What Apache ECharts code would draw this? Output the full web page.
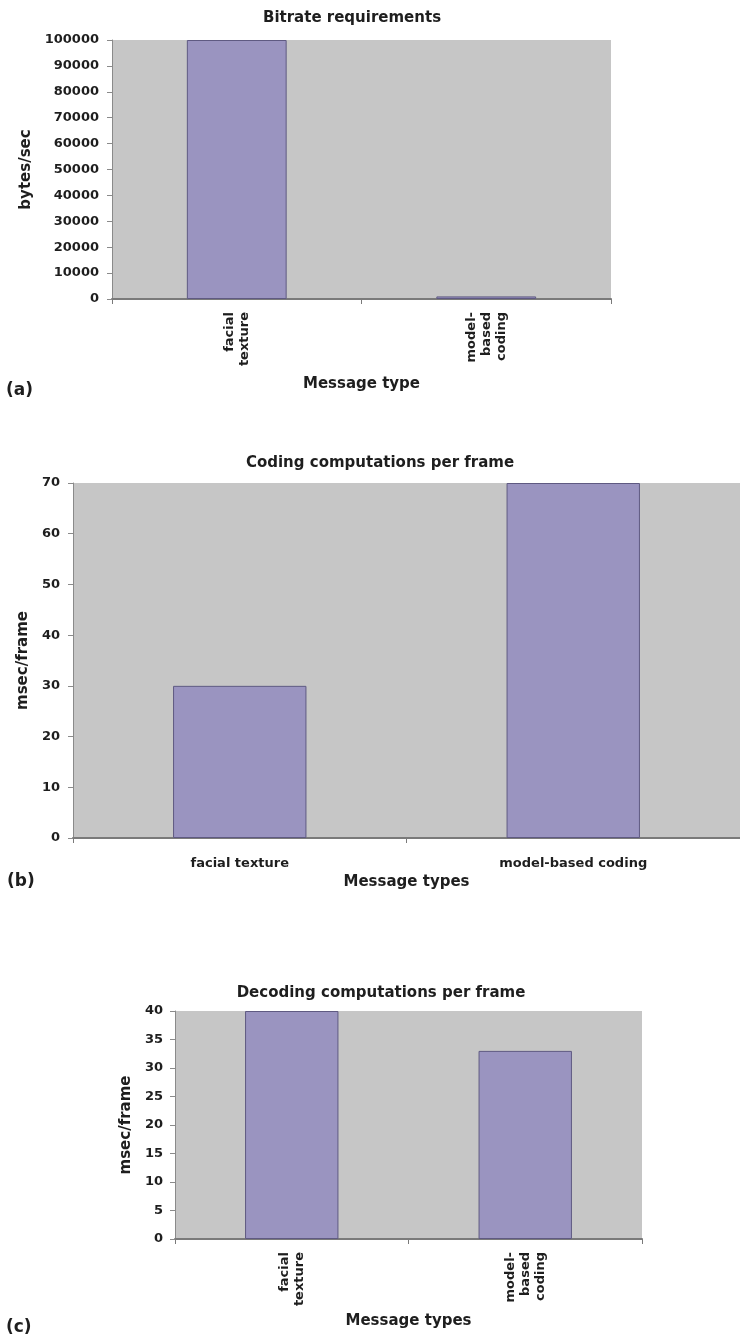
<!DOCTYPE html>
<html>
<head>
<meta charset="utf-8">
<title>Bitrate and computation requirements</title>
<script src="https://cdn.jsdelivr.net/npm/echarts@6/dist/echarts.min.js"></script>
<style>
  html, body { margin: 0; padding: 0; background: #ffffff; }
  #chart { width: 740px; height: 1335px; }
</style>
</head>
<body>
<div id="chart"></div>
<script>
// Message types (two layouts: stacked for vertical labels, flat for horizontal)
const categories = ['facial texture', 'model-based coding'];
const categoriesStacked = ['facial\ntexture', 'model-\nbased\ncoding'];

// (a) Bitrate requirements, bytes/sec
const bitrateValues = [100000, 1000];
const bitrateAxis = { min: 0, max: 100000, interval: 10000 };

// (b) Coding computations per frame, msec/frame
const codingValues = [30, 70];
const codingAxis = { min: 0, max: 70, interval: 10 };

// (c) Decoding computations per frame, msec/frame
const decodingValues = [40, 33];
const decodingAxis = { min: 0, max: 40, interval: 5 };

const panelTitles = ['Bitrate requirements', 'Coding computations per frame', 'Decoding computations per frame'];
const panelTags = ['(a)', '(b)', '(c)'];

const FONT = '"DejaVu Sans", "Liberation Sans", Arial, sans-serif';
const TEXT = '#1e1e1e';
const PLOT_BG = '#c6c6c6';
const BAR_FILL = '#9a94c0';
const BAR_EDGE = '#5f5a82';

const chart = echarts.init(document.getElementById('chart'), null, { renderer: 'canvas' });

function yAxisCfg(gridIndex, range, name, nameGap, labelMargin) {
  return {
    type: 'value', gridIndex: gridIndex,
    min: range.min, max: range.max, interval: range.interval,
    name: name, nameLocation: 'middle', nameGap: nameGap, nameRotate: 90,
    nameTextStyle: { fontFamily: FONT, fontWeight: 'bold', fontSize: 15, color: TEXT },
    axisLine: { show: true, lineStyle: { color: '#8a8a8a', width: 1 } },
    axisTick: { show: true, length: 5, lineStyle: { color: '#8a8a8a' } },
    axisLabel: {
      margin: labelMargin, fontFamily: FONT, fontWeight: 'bold', fontSize: 13, color: TEXT,
      formatter: function (v) { return String(v); }
    },
    splitLine: { show: false }
  };
}

function xAxisCfg(gridIndex, labels, rotate, labelMargin, nameGap) {
  return {
    type: 'category', gridIndex: gridIndex, data: labels,
    name: 'Message type' + (gridIndex === 0 ? '' : 's'),
    nameLocation: 'middle', nameGap: nameGap,
    nameTextStyle: { fontFamily: FONT, fontWeight: 'bold', fontSize: 15, color: TEXT },
    axisLine: { show: true, lineStyle: { color: '#7a7a7a', width: 2 } },
    axisTick: { show: true, length: 5, lineStyle: { color: '#7a7a7a' } },
    axisLabel: {
      rotate: rotate, margin: labelMargin, interval: 0,
      fontFamily: FONT, fontWeight: 'bold', fontSize: 13, color: TEXT, lineHeight: 15
    },
    splitLine: { show: false }
  };
}

function barSeries(index, values) {
  return {
    type: 'bar', xAxisIndex: index, yAxisIndex: index, data: values,
    barCategoryGap: '60%',
    itemStyle: { color: BAR_FILL, borderColor: BAR_EDGE, borderWidth: 1 },
    silent: true
  };
}

function textEl(str, x, y, size, align) {
  return {
    type: 'text', x: x, y: y, silent: true,
    style: {
      text: str, fill: TEXT, fontFamily: FONT, fontWeight: 'bold', fontSize: size,
      align: align, verticalAlign: 'middle'
    }
  };
}

const option = {
  animation: false,
  backgroundColor: '#ffffff',
  grid: [
    { left: 112, top: 40, width: 499, height: 259, show: true, backgroundColor: PLOT_BG, borderWidth: 0, containLabel: false },
    { left: 73, top: 483, width: 672, height: 355, show: true, backgroundColor: PLOT_BG, borderWidth: 0, containLabel: false },
    { left: 175, top: 1011, width: 467, height: 228, show: true, backgroundColor: PLOT_BG, borderWidth: 0, containLabel: false }
  ],
  xAxis: [
    xAxisCfg(0, categoriesStacked, 90, 13, 78),
    xAxisCfg(1, categories, 0, 18, 37),
    xAxisCfg(2, categoriesStacked, 90, 13, 75)
  ],
  yAxis: [
    yAxisCfg(0, bitrateAxis, 'bytes/sec', 71, 13),
    yAxisCfg(1, codingAxis, 'msec/frame', 40, 13),
    yAxisCfg(2, decodingAxis, 'msec/frame', 38, 12)
  ],
  series: [
    barSeries(0, bitrateValues),
    barSeries(1, codingValues),
    barSeries(2, decodingValues)
  ],
  graphic: [
    textEl(panelTitles[0], 352, 18, 15, 'center'),
    textEl(panelTitles[1], 380, 463, 15, 'center'),
    textEl(panelTitles[2], 381, 993, 15, 'center'),
    textEl(panelTags[0], 6, 391, 17, 'left'),
    textEl(panelTags[1], 7, 882, 17, 'left'),
    textEl(panelTags[2], 6, 1328, 17, 'left')
  ]
};

chart.setOption(option);
</script>
</body>
</html>
